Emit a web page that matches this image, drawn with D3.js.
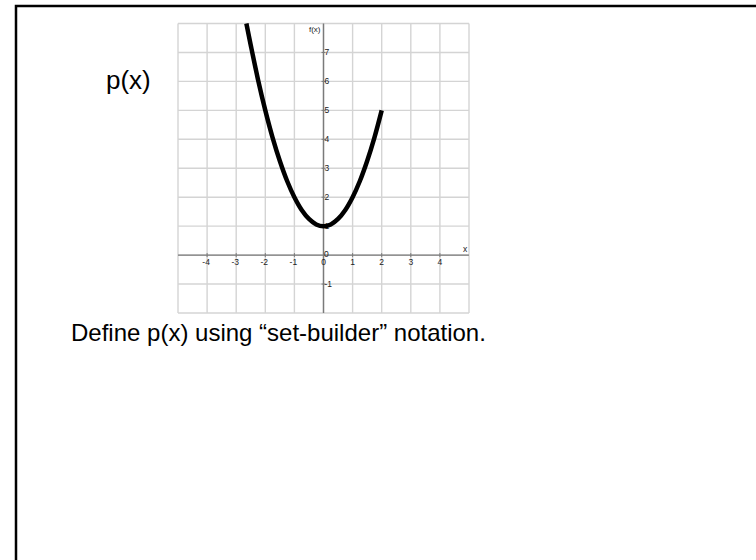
<!DOCTYPE html>
<html>
<head>
<meta charset="utf-8">
<script src="https://cdn.jsdelivr.net/npm/d3@7"></script>
<style>
  html, body { margin: 0; padding: 0; background: #fff; }
  svg { display: block; }
</style>
</head>
<body>
<svg id="slide" width="756" height="560"></svg>
<script>
// Points on the graph of p(x)
const curveX = [-2.65, -2.5, -2.25, -2, -1.75, -1.5, -1.25, -1, -0.75, -0.5, -0.25, 0, 0.25, 0.5, 0.75, 1, 1.25, 1.5, 1.75, 2];
const curveY = [8, 7.25, 6.06, 5, 4.06, 3.25, 2.56, 2, 1.56, 1.25, 1.06, 1, 1.06, 1.25, 1.56, 2, 2.56, 3.25, 4.06, 5];

// Axis tick labels
const xTicks = [-4, -3, -2, -1, 0, 1, 2, 3, 4];
const yTicks = [-1, 1, 2, 3, 4, 5, 6, 7];
const gridX = [-5, -4, -3, -2, -1, 0, 1, 2, 3, 4, 5];
const gridY = [-2, -1, 0, 1, 2, 3, 4, 5, 6, 7, 8];

const titleText = "p(x)";
const promptText = "Define p(x) using \u201Cset-builder\u201D notation.";

const svg = d3.select("#slide");

// Slide frame (runs past the right and bottom edges)
svg.append("path")
  .attr("d", "M16,570 L16,6 L770,6")
  .attr("fill", "none")
  .attr("stroke", "#000")
  .attr("stroke-width", 2.5);

const x = d3.scaleLinear().domain([-5, 5]).range([178, 469]);
const y = d3.scaleLinear().domain([-2, 8]).range([313, 23.5]);

const plot = svg.append("g");

// Grid
plot.selectAll("line.gx").data(gridX).join("line")
  .attr("class", "gx")
  .attr("x1", d => x(d)).attr("x2", d => x(d))
  .attr("y1", y(-2)).attr("y2", y(8))
  .attr("stroke", "#d4d4d4").attr("stroke-width", 1.4);
plot.selectAll("line.gy").data(gridY).join("line")
  .attr("class", "gy")
  .attr("y1", d => y(d)).attr("y2", d => y(d))
  .attr("x1", x(-5)).attr("x2", x(5))
  .attr("stroke", "#d4d4d4").attr("stroke-width", 1.4);

// Axes
plot.append("line")
  .attr("x1", x(-5)).attr("x2", x(5))
  .attr("y1", y(0)).attr("y2", y(0))
  .attr("stroke", "#7a7a7a").attr("stroke-width", 1.4);
plot.append("line")
  .attr("x1", x(0)).attr("x2", x(0))
  .attr("y1", y(-2)).attr("y2", y(8))
  .attr("stroke", "#7a7a7a").attr("stroke-width", 1.4);

// Tick marks
plot.selectAll("line.tx").data(xTicks).join("line")
  .attr("class", "tx")
  .attr("x1", d => x(d)).attr("x2", d => x(d))
  .attr("y1", y(0) - 2).attr("y2", y(0) + 2)
  .attr("stroke", "#7a7a7a").attr("stroke-width", 1);
plot.selectAll("line.ty").data(yTicks).join("line")
  .attr("class", "ty")
  .attr("y1", d => y(d)).attr("y2", d => y(d))
  .attr("x1", x(0) - 2).attr("x2", x(0) + 2)
  .attr("stroke", "#7a7a7a").attr("stroke-width", 1);

const tickFont = "Liberation Sans, Arial, sans-serif";

plot.selectAll("text.lx").data(xTicks).join("text")
  .attr("class", "lx")
  .attr("x", d => x(d) - (d < 0 ? 1 : 0))
  .attr("y", y(0) + 10)
  .attr("text-anchor", "middle")
  .attr("font-family", tickFont).attr("font-size", 8.5)
  .attr("fill", "#222")
  .text(d => d);

plot.selectAll("text.ly").data(yTicks).join("text")
  .attr("class", "ly")
  .attr("x", x(0) + 1)
  .attr("y", d => y(d) + 3)
  .attr("font-family", tickFont).attr("font-size", 8.5)
  .attr("fill", "#222")
  .text(d => d);

// y-axis zero label at the origin
plot.append("text")
  .attr("x", x(0) + 0.5).attr("y", y(0) + 2)
  .attr("font-family", tickFont).attr("font-size", 8.5)
  .attr("fill", "#222").text("0");

// Axis names
plot.append("text")
  .attr("x", x(0) - 3).attr("y", y(8) + 8)
  .attr("text-anchor", "end")
  .attr("font-family", tickFont).attr("font-size", 8)
  .attr("fill", "#222").text("f(x)");
plot.append("text")
  .attr("x", x(5) - 4).attr("y", y(0) - 3)
  .attr("text-anchor", "middle")
  .attr("font-family", tickFont).attr("font-size", 8.5)
  .attr("fill", "#222").text("x");

// The function curve
const line = d3.line()
  .x((d, i) => x(curveX[i]))
  .y((d, i) => y(curveY[i]))
  .curve(d3.curveCatmullRom);

plot.append("path")
  .datum(curveX)
  .attr("d", line)
  .attr("fill", "none")
  .attr("stroke", "#000")
  .attr("stroke-width", 4.5)
  .attr("stroke-linecap", "butt")
  .attr("stroke-linejoin", "round");

// Slide text
svg.append("text")
  .attr("x", 106).attr("y", 89)
  .attr("font-family", "Liberation Sans, Arial, sans-serif")
  .attr("font-size", 26)
  .attr("fill", "#000")
  .text(titleText);

svg.append("text")
  .attr("x", 71).attr("y", 341)
  .attr("font-family", "Liberation Sans, Arial, sans-serif")
  .attr("font-size", 24)
  .attr("fill", "#000")
  .text(promptText);
</script>
</body>
</html>
